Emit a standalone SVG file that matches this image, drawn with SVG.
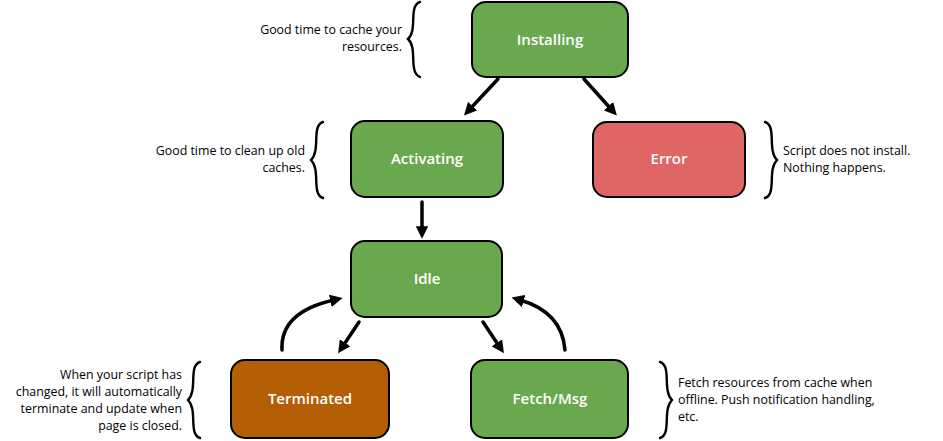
<svg xmlns="http://www.w3.org/2000/svg" width="943" height="441" viewBox="0 0 943 441">
<style>
.node rect{stroke:#000;stroke-width:2}
.green{fill:#6aa84f}
.red{fill:#e06666}
.brown{fill:#b45f06}
.label{font-family:"Open Sans","Liberation Sans",sans-serif;font-size:15px;font-weight:600;fill:#fff;text-anchor:middle}
.note{font-family:"Open Sans","Liberation Sans",sans-serif;font-size:12.4px;fill:#000}
.brace{fill:none;stroke:#000;stroke-width:2.4;stroke-linecap:round}
.edge{fill:none;stroke:#000;stroke-width:3.5;stroke-linecap:round}
</style>
<defs>
<marker id="ah" viewBox="0 0 10 10" refX="3" refY="5" markerWidth="3.6" markerHeight="3.6" orient="auto" markerUnits="strokeWidth">
<path d="M0,0 L10,5 L0,10 Z" fill="#000"/>
</marker>
</defs>
<rect width="943" height="441" fill="#fff"/>
<g id="connectors">
<path class="edge" d="M498,79 L470,109" marker-end="url(#ah)"/>
<path class="edge" d="M584,79 L611,109" marker-end="url(#ah)"/>
<path class="edge" d="M422,202 L422,230" marker-end="url(#ah)"/>
<path class="edge" d="M359,322 L343,346" marker-end="url(#ah)"/>
<path class="edge" d="M483,322 L499,346" marker-end="url(#ah)"/>
<path class="edge" d="M282,350 Q280,312 334,300" marker-end="url(#ah)"/>
<path class="edge" d="M565,350 Q562,312 520,300" marker-end="url(#ah)"/>
</g>
<g id="installing" class="node">
<rect class="green" x="472" y="2" width="156" height="75" rx="14"/>
<text class="label" x="550" y="45">Installing</text>
<path class="brace" d="M420,2 C408,6 418,30 408,39 C418,48 408,72 420,77"/>
<text class="note" text-anchor="end"><tspan x="402" y="34">Good time to cache your</tspan><tspan x="402" y="51">resources.</tspan></text>
</g>
<g id="activating" class="node">
<rect class="green" x="351" y="121" width="152" height="76" rx="14"/>
<text class="label" x="427" y="164">Activating</text>
<path class="brace" d="M323,122 C311,126 321,150 311,160 C321,170 311,194 323,198"/>
<text class="note" text-anchor="end"><tspan x="305" y="155">Good time to clean up old</tspan><tspan x="305" y="172">caches.</tspan></text>
</g>
<g id="error" class="node">
<rect class="red" x="593" y="122" width="152" height="75" rx="14"/>
<text class="label" x="669" y="164">Error</text>
<path class="brace" d="M765,122 C777,126 767,150 777,160 C767,170 777,194 765,198"/>
<text class="note"><tspan x="783" y="155">Script does not install.</tspan><tspan x="783" y="172">Nothing happens.</tspan></text>
</g>
<g id="idle" class="node">
<rect class="green" x="351" y="241" width="151" height="76" rx="14"/>
<text class="label" x="427" y="284">Idle</text>
</g>
<g id="terminated" class="node">
<rect class="brown" x="231" y="360" width="158" height="78" rx="14"/>
<text class="label" x="310" y="404">Terminated</text>
<path class="brace" d="M200,362 C188,366 198,390 188,400 C198,410 188,434 200,438"/>
<text class="note" text-anchor="end"><tspan x="182" y="379">When your script has</tspan><tspan x="182" y="396">changed, it will automatically</tspan><tspan x="182" y="413">terminate and update when</tspan><tspan x="182" y="430">page is closed.</tspan></text>
</g>
<g id="fetchmsg" class="node">
<rect class="green" x="471" y="360" width="157" height="78" rx="14"/>
<text class="label" x="550" y="404">Fetch/Msg</text>
<path class="brace" d="M660,362 C672,366 662,390 672,400 C662,410 672,434 660,438"/>
<text class="note"><tspan x="678" y="387">Fetch resources from cache when</tspan><tspan x="678" y="404">offline. Push notification handling,</tspan><tspan x="678" y="421">etc.</tspan></text>
</g>
</svg>
